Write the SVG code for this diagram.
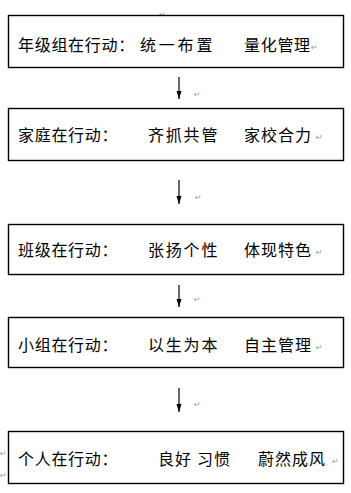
<svg xmlns="http://www.w3.org/2000/svg" width="351" height="493" viewBox="0 0 351 493">
<style>
.box{fill:#fff;stroke:#000;stroke-width:1.4}
.t{font-family:"Noto Sans CJK SC","Noto Sans CJK JP",sans-serif;font-size:16px;fill:#000}
.pm{font-family:"DejaVu Sans",sans-serif;font-size:8px;fill:#999}
.c{stroke:#000;stroke-width:1.2;fill:none}
</style>
<defs>
<marker id="arr" viewBox="0 0 8 6" refX="8" refY="3" markerWidth="8" markerHeight="6" markerUnits="userSpaceOnUse" orient="auto">
<path d="M0,0.5 L8,3 L0,5.5 Z" fill="#000"/>
</marker>
</defs>
<text class="pm" x="159" y="17">↵</text>
<text class="pm" x="0" y="456">↵</text>
<text class="pm" x="0" y="478">↵</text>
<g id="n1">
<rect class="box" x="8.5" y="15.5" width="335" height="52"/>
<text class="t" y="50.5"><tspan x="18" letter-spacing="0.7">年级组在行动：</tspan><tspan x="140" letter-spacing="2.8">统一布置</tspan><tspan x="244" letter-spacing="0.7">量化管理</tspan></text>
<text class="pm" x="311" y="50">↵</text>
</g>
<g id="n2">
<rect class="box" x="8.5" y="108.5" width="335" height="52"/>
<text class="t" y="140.5"><tspan x="18" letter-spacing="0.7">家庭在行动：</tspan><tspan x="148" letter-spacing="1.8">齐抓共管</tspan><tspan x="244" letter-spacing="1">家校合力</tspan></text>
<text class="pm" x="316" y="140">↵</text>
</g>
<g id="n3">
<rect class="box" x="8.5" y="224.5" width="335" height="50"/>
<text class="t" y="255.5"><tspan x="18" letter-spacing="0.7">班级在行动：</tspan><tspan x="148" letter-spacing="1.8">张扬个性</tspan><tspan x="244" letter-spacing="1">体现特色</tspan></text>
<text class="pm" x="316" y="255">↵</text>
</g>
<g id="n4">
<rect class="box" x="8.5" y="317.5" width="335" height="50"/>
<text class="t" y="350.5"><tspan x="18" letter-spacing="0.7">小组在行动：</tspan><tspan x="148" letter-spacing="1.8">以生为本</tspan><tspan x="244" letter-spacing="1">自主管理</tspan></text>
<text class="pm" x="316" y="350">↵</text>
</g>
<g id="n5">
<rect class="box" x="8.5" y="431.5" width="335" height="52"/>
<text class="t" y="464.5"><tspan x="18" letter-spacing="0.7">个人在行动：</tspan><tspan x="158" letter-spacing="1">良好</tspan><tspan x="197" letter-spacing="1">习惯</tspan><tspan x="258" letter-spacing="1">蔚然成风</tspan></text>
<text class="pm" x="332" y="464">↵</text>
</g>
<g id="connectors">
<line class="c" x1="179" y1="77" x2="179" y2="99" marker-end="url(#arr)"/>
<line class="c" x1="179" y1="180" x2="179" y2="204" marker-end="url(#arr)"/>
<line class="c" x1="179" y1="285" x2="179" y2="307" marker-end="url(#arr)"/>
<line class="c" x1="179" y1="388" x2="179" y2="412" marker-end="url(#arr)"/>
<text class="pm" x="194" y="97">↵</text>
<text class="pm" x="195" y="200">↵</text>
<text class="pm" x="194" y="302">↵</text>
<text class="pm" x="194" y="407">↵</text>
</g>
</svg>
